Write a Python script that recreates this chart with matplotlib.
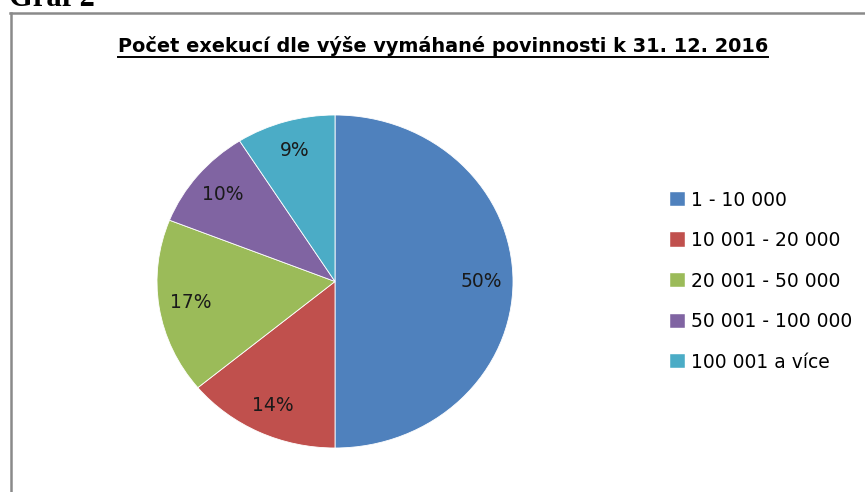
import matplotlib
matplotlib.use("Agg")
import matplotlib.pyplot as plt
from matplotlib.lines import Line2D
from matplotlib.patches import Patch

# ---- data ----
categories = ["1 - 10 000", "10 001 - 20 000", "20 001 - 50 000",
              "50 001 - 100 000", "100 001 a více"]
shares = [50, 14, 17, 10, 9]
colors = ["#4F81BD", "#C0504D", "#9BBB59", "#8064A2", "#4BACC6"]
title = "Počet exekucí dle výše vymáhané povinnosti k 31. 12. 2016"
caption = "Graf 2"

W, H = 865, 492
fig = plt.figure(figsize=(W / 100, H / 100), dpi=100)
fig.patch.set_facecolor("white")

def fx(px):
    return px / W

def fy(py):
    return 1 - py / H

# frame of the chart object
fig.add_artist(Line2D([fx(10), fx(864)], [fy(13), fy(13)], color="#8a8a8a", lw=1.8))
fig.add_artist(Line2D([fx(10.5), fx(10.5)], [fy(13), fy(492)], color="#8a8a8a", lw=1.8))

# caption cut at the top (as in the reference)
fig.text(fx(9), fy(6), caption, family="Liberation Serif", weight="bold",
         fontsize=22, va="baseline", ha="left", color="black")

# pie
x0, x1, y0, y1 = 157, 513, 115, 448
ax = fig.add_axes([fx(x0), fy(y1), fx(x1 - x0), (y1 - y0) / H])
wedges, texts, autotexts = ax.pie(
    shares, colors=colors, startangle=90, counterclock=False,
    autopct=lambda p: f"{p:.0f}%", pctdistance=0.82,
    wedgeprops=dict(edgecolor="white", linewidth=0.6),
    textprops=dict(fontsize=13.5, color="#1a1a1a", family="DejaVu Sans"))
ax.set_aspect("auto")
ax.set_xlim(-1, 1)
ax.set_ylim(-1, 1)
ax.axis("off")

# title with underline
t = fig.text(fx(443), fy(52), title, family="DejaVu Sans", fontsize=13.9,
             weight="bold", ha="center", va="baseline", color="black")
fig.canvas.draw()
bb = t.get_window_extent(fig.canvas.get_renderer())
uy = fy(56.5)
fig.add_artist(Line2D([bb.x0 / W, bb.x1 / W], [uy, uy], color="black", lw=1.4))

# legend
handles = [Patch(facecolor=c, edgecolor="white", linewidth=0.3) for c in colors]
leg = fig.legend(handles, categories, loc="upper left",
                 bbox_to_anchor=(fx(670), fy(190.5)), frameon=False,
                 prop=dict(family="DejaVu Sans", size=13.5),
                 handlelength=0.8, handleheight=0.8, handletextpad=0.3,
                 labelspacing=1.15, borderpad=0, borderaxespad=0)

fig.savefig("out.png", dpi=100, facecolor="white")
